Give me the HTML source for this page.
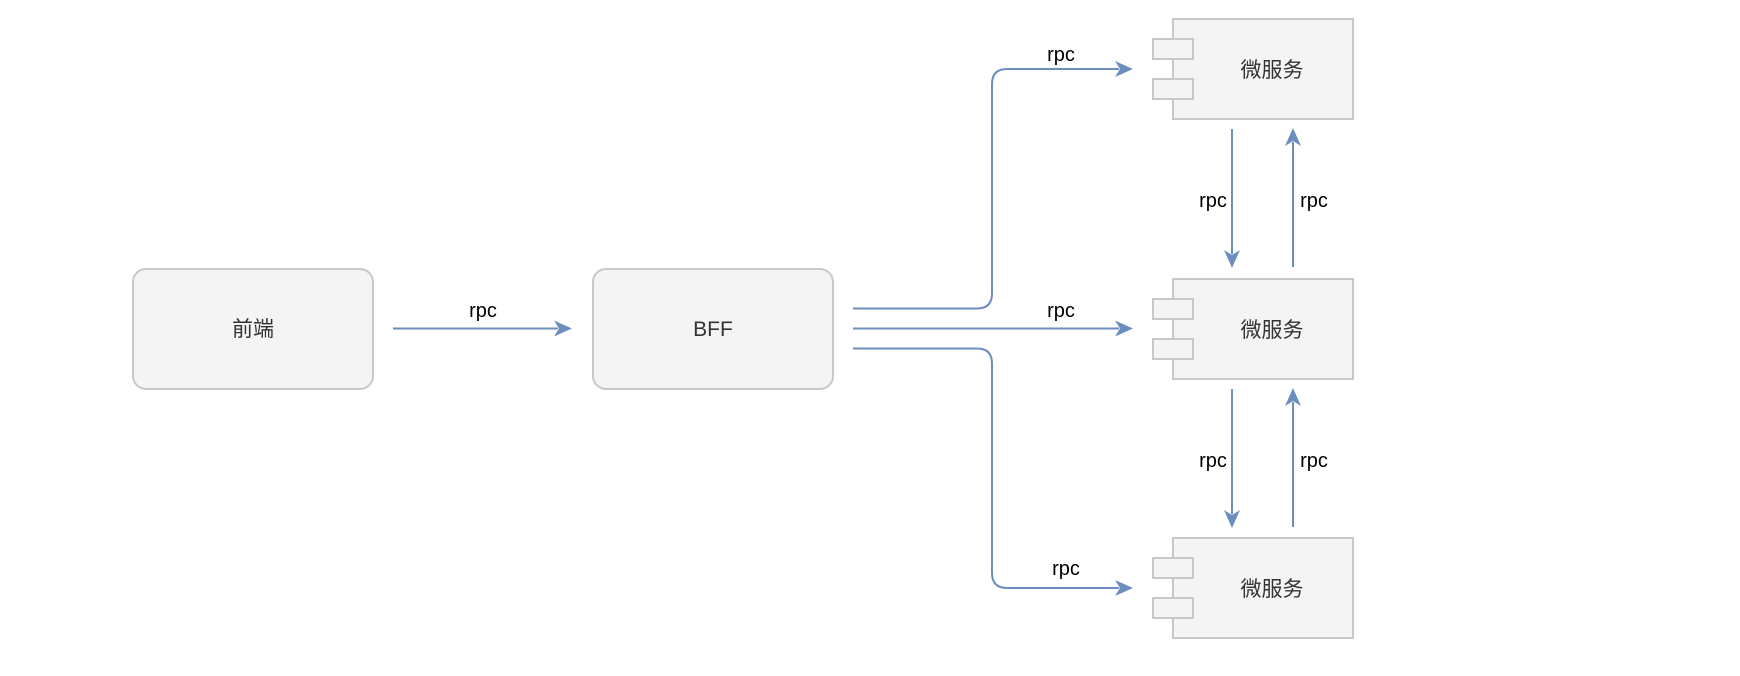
<!DOCTYPE html>
<html><head><meta charset="utf-8"><style>
html,body{margin:0;padding:0;background:#fff;}
svg{display:block}
text{font-family:"Liberation Sans","Noto Sans CJK SC",sans-serif;}
</style></head><body>
<svg width="1740" height="676" viewBox="0 0 1740 676" xmlns="http://www.w3.org/2000/svg">
<defs>
<marker id="a" markerWidth="18" markerHeight="16" refX="4" refY="8" orient="auto" markerUnits="userSpaceOnUse">
<path d="M0,0 L18,8 L0,16 L5,8 Z" fill="#6c8ebf"/>
</marker>
</defs>
<g fill="#f4f4f4" stroke="#c8c8c8" stroke-width="2">
<rect x="133" y="269" width="240" height="120" rx="13"/>
<rect x="593" y="269" width="240" height="120" rx="13"/>
</g>
<text x="253" y="336" font-size="21" text-anchor="middle" fill="#333">前端</text>
<text x="713" y="336" font-size="21" text-anchor="middle" fill="#333">BFF</text>
<g fill="none" stroke="#6c8ebf" stroke-width="2" marker-end="url(#a)">
<line x1="393" y1="328.5" x2="558" y2="328.5"/>
<path d="M853,308.5 H977 Q992,308.5 992,293.5 V84 Q992,69 1007,69 H1119"/>
<line x1="853" y1="328.5" x2="1119" y2="328.5"/>
<path d="M853,348.5 H977 Q992,348.5 992,363.5 V573 Q992,588 1007,588 H1119"/>
<line x1="1232" y1="129" x2="1232" y2="254"/>
<line x1="1293" y1="267" x2="1293" y2="142"/>
<line x1="1232" y1="389" x2="1232" y2="514"/>
<line x1="1293" y1="527" x2="1293" y2="402"/>
</g>
<g font-size="20" fill="#000" text-anchor="middle">
<text x="483" y="317">rpc</text>
<text x="1061" y="61">rpc</text>
<text x="1061" y="317">rpc</text>
<text x="1066" y="575">rpc</text>
<text x="1213" y="207">rpc</text>
<text x="1314" y="207">rpc</text>
<text x="1213" y="467">rpc</text>
<text x="1314" y="467">rpc</text>
</g>
<g fill="#f4f4f4" stroke="#c8c8c8" stroke-width="2">
<rect x="1173" y="19" width="180" height="100"/>
<rect x="1153" y="39" width="40" height="20"/>
<rect x="1153" y="79" width="40" height="20"/>
<rect x="1173" y="279" width="180" height="100"/>
<rect x="1153" y="299" width="40" height="20"/>
<rect x="1153" y="339" width="40" height="20"/>
<rect x="1173" y="538" width="180" height="100"/>
<rect x="1153" y="558" width="40" height="20"/>
<rect x="1153" y="598" width="40" height="20"/>
</g>
<g font-size="21" fill="#333" text-anchor="middle">
<text x="1272" y="77">微服务</text>
<text x="1272" y="337">微服务</text>
<text x="1272" y="596">微服务</text>
</g>
</svg>
</body></html>
